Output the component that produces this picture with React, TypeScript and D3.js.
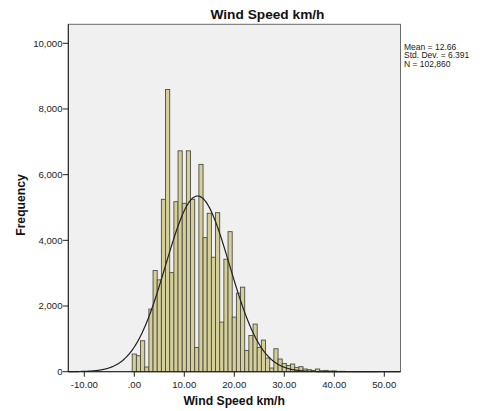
import React, { useEffect, useRef } from 'react'
import * as d3 from 'd3'

// histogram counts, one per bin (bin width 5/6 km/h, first bin centred on 0)
const binStart = -0.4167
const binWidth = 0.8333
const counts = [
  538, 486, 942, 143, 1906, 3080, 2796, 5249, 8593, 3018,
  5177, 6726, 5127, 6726, 5249, 739, 6313, 4082, 4824, 3486,
  4843, 1511, 3425, 4265, 1662, 2392, 2574, 648, 1103, 1450,
  739, 963, 416, 112, 699, 386, 252, 191, 234, 131,
  152, 82, 61, 40, 82, 30, 40, 20, 25, 10,
  12, 6, 5, 4, 3, 2, 2, 1, 1,
]

const xTicks = [-10, 0, 10, 20, 30, 40, 50]
const yTicks = [0, 2000, 4000, 6000, 8000, 10000]

const stats = { mean: 12.66, sd: 6.391, n: 102860 }
const legendLines = ['Mean = 12.66', 'Std. Dev. = 6.391', 'N = 102,860']

const W = 482
const H = 411
const font = 'Arial, "Liberation Sans", sans-serif'

const App = () => {
  const svgRef = useRef(null)

  useEffect(() => {
    const svg = d3.select(svgRef.current)
    svg.selectAll('*').remove()

    const plot = { left: 68.3, right: 400.5, top: 24.3, bottom: 371.7 }

    const x = d3.scaleLinear().domain([-10, 50]).range([84.3, 384.3])
    const y = d3.scaleLinear().domain([0, 10000]).range([371.7, 43.3])

    svg.append('rect').attr('width', W).attr('height', H).attr('fill', '#fff')

    // plot background
    svg
      .append('rect')
      .attr('x', plot.left)
      .attr('y', plot.top)
      .attr('width', plot.right - plot.left)
      .attr('height', plot.bottom - plot.top)
      .attr('fill', '#f0f0f0')
      .attr('stroke', '#6b6b6b')
      .attr('stroke-width', 1)

    // bars
    svg
      .append('g')
      .selectAll('rect')
      .data(counts)
      .join('rect')
      .attr('x', (d, i) => x(binStart + i * binWidth))
      .attr('width', (d, i) => x(binStart + (i + 1) * binWidth) - x(binStart + i * binWidth))
      .attr('y', (d) => y(d))
      .attr('height', (d) => y(0) - y(d))
      .attr('fill', '#d4cf98')
      .attr('stroke', '#4d4d45')
      .attr('stroke-width', 0.9)

    // normal curve
    const scale = (stats.n * binWidth) / (stats.sd * Math.sqrt(2 * Math.PI))
    const xs = d3.range(x.invert(plot.left), x.invert(plot.right), 0.1)
    const line = d3
      .line()
      .x((d) => x(d))
      .y((d) => y(scale * Math.exp(-0.5 * ((d - stats.mean) / stats.sd) ** 2)))
      .curve(d3.curveBasis)
    svg
      .append('path')
      .attr('d', line(xs))
      .attr('fill', 'none')
      .attr('stroke', '#222')
      .attr('stroke-width', 1.2)

    // axis lines
    svg
      .append('line')
      .attr('x1', plot.left)
      .attr('x2', plot.left)
      .attr('y1', plot.top)
      .attr('y2', plot.bottom)
      .attr('stroke', '#222')
    svg
      .append('line')
      .attr('x1', plot.left)
      .attr('x2', plot.right)
      .attr('y1', plot.bottom)
      .attr('y2', plot.bottom)
      .attr('stroke', '#222')

    // x ticks
    const xg = svg.append('g')
    xg.selectAll('line')
      .data(xTicks)
      .join('line')
      .attr('x1', (d) => x(d))
      .attr('x2', (d) => x(d))
      .attr('y1', plot.bottom)
      .attr('y2', plot.bottom + 5)
      .attr('stroke', '#222')
    xg.selectAll('text')
      .data(xTicks)
      .join('text')
      .attr('x', (d) => x(d))
      .attr('y', 388)
      .attr('text-anchor', 'middle')
      .style('font-family', font)
      .style('font-size', '9.6px')
      .attr('fill', '#222')
      .text((d) => (d === 0 ? '.00' : d.toFixed(2)))

    // y ticks
    const yg = svg.append('g')
    yg.selectAll('line')
      .data(yTicks)
      .join('line')
      .attr('x1', plot.left - 5.5)
      .attr('x2', plot.left)
      .attr('y1', (d) => y(d))
      .attr('y2', (d) => y(d))
      .attr('stroke', '#222')
    yg.selectAll('text')
      .data(yTicks)
      .join('text')
      .attr('x', plot.left - 5.8)
      .attr('y', (d) => y(d) + 3.4)
      .attr('text-anchor', 'end')
      .style('font-family', font)
      .style('font-size', '9.6px')
      .attr('fill', '#222')
      .text((d) => d3.format(',')(d))

    // titles
    svg
      .append('text')
      .attr('x', 267.5)
      .attr('y', 18.5)
      .attr('text-anchor', 'middle')
      .style('font-family', font)
      .style('font-size', '13.7px')
      .style('font-weight', 'bold')
      .attr('fill', '#111')
      .text('Wind Speed km/h')

    svg
      .append('text')
      .attr('x', 234.2)
      .attr('y', 405)
      .attr('text-anchor', 'middle')
      .style('font-family', font)
      .style('font-size', '12.2px')
      .style('font-weight', 'bold')
      .attr('fill', '#111')
      .text('Wind Speed km/h')

    svg
      .append('text')
      .attr('transform', 'translate(24.5,205) rotate(-90)')
      .attr('text-anchor', 'middle')
      .style('font-family', font)
      .style('font-size', '12.2px')
      .style('font-weight', 'bold')
      .attr('fill', '#111')
      .text('Frequency')

    // stats legend
    svg
      .append('g')
      .selectAll('text')
      .data(legendLines)
      .join('text')
      .attr('x', 404)
      .attr('y', (d, i) => 49.5 + i * 8.5)
      .style('font-family', font)
      .style('font-size', '8.5px')
      .attr('fill', '#222')
      .text((d) => d)
  }, [])

  return (
    <svg
      ref={svgRef}
      width={W}
      height={H}
      style={{ position: 'absolute', left: 0, top: 0, display: 'block' }}
    />
  )
}

export default App
